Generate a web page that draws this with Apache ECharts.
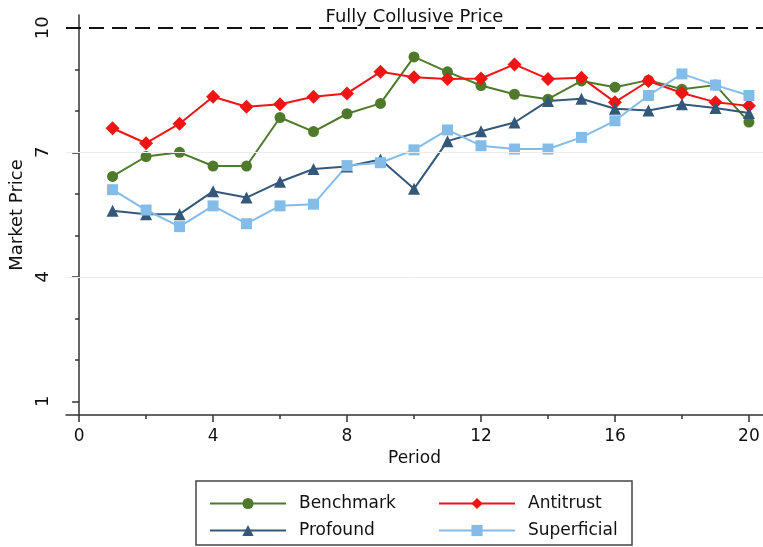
<!DOCTYPE html>
<html>
<head>
<meta charset="utf-8">
<script src="https://cdn.jsdelivr.net/npm/echarts@6/dist/echarts.min.js"></script>
<style>
  html, body { margin: 0; padding: 0; background: #fff; }
  #chart { width: 763px; height: 547px; }
</style>
</head>
<body>
<div id="chart"></div>
<script>
const periods = [1, 2, 3, 4, 5, 6, 7, 8, 9, 10, 11, 12, 13, 14, 15, 16, 17, 18, 19, 20]
const benchmark = [6.42, 6.90, 7.00, 6.67, 6.67, 7.84, 7.50, 7.93, 8.18, 9.30, 8.94, 8.61, 8.40, 8.28, 8.72, 8.57, 8.74, 8.52, 8.62, 7.73]
const antitrust = [7.58, 7.22, 7.69, 8.34, 8.10, 8.16, 8.34, 8.42, 8.94, 8.81, 8.77, 8.78, 9.12, 8.77, 8.80, 8.21, 8.72, 8.43, 8.21, 8.12]
const profound = [5.59, 5.51, 5.51, 6.06, 5.91, 6.29, 6.60, 6.66, 6.83, 6.12, 7.27, 7.51, 7.72, 8.24, 8.29, 8.05, 8.01, 8.16, 8.07, 7.95]
const superficial = [6.10, 5.61, 5.21, 5.71, 5.28, 5.71, 5.75, 6.68, 6.75, 7.06, 7.54, 7.16, 7.08, 7.08, 7.36, 7.76, 8.37, 8.89, 8.62, 8.37]

const yTicks = [1, 4, 7, 10]
const yMinorTicks = [2, 3, 5, 6, 8, 9]
const xTicks = [0, 4, 8, 12, 16, 20]
const xMinorTicks = [2, 6, 10, 14, 18]
const gridValues = [4, 7]
const collusivePrice = 10

const font = 'DejaVu Sans'
const ink = '#111'

function pairs(vals) {
  return periods.map((p, i) => [p, vals[i]])
}

function lineSeries(name, vals, color, symbol, size) {
  return {
    name,
    type: 'line',
    data: pairs(vals),
    symbol,
    symbolSize: size,
    z: 3,
    lineStyle: { color, width: 2 },
    itemStyle: { color, borderWidth: 0 },
    emphasis: { disabled: true }
  }
}

const chart = echarts.init(document.getElementById('chart'), null, { renderer: 'canvas' })

const legendCommon = {
  orient: 'vertical',
  itemWidth: 76,
  itemHeight: 14,
  itemGap: 10,
  selectedMode: false,
  textStyle: { fontFamily: font, fontSize: 17, color: ink, padding: [0, 0, 0, 8] }
}

chart.setOption({
  animation: false,
  textStyle: { fontFamily: font },
  grid: { left: 64, right: 0, top: 15, bottom: 132 },
  xAxis: [
    {
      type: 'value',
      min: -0.39,
      max: 20.42,
      position: 'bottom',
      name: 'Period',
      nameLocation: 'middle',
      nameGap: 33,
      nameTextStyle: { fontFamily: font, fontSize: 17, color: ink },
      axisLine: { show: true, lineStyle: { color: '#333', width: 1.5 } },
      axisTick: { show: true, length: 7, customValues: xTicks, lineStyle: { color: '#333', width: 1.5 } },
      axisLabel: { customValues: xTicks, margin: 13, fontFamily: font, fontSize: 17, color: ink },
      splitLine: { show: false }
    },
    {
      type: 'value',
      min: -0.39,
      max: 20.42,
      position: 'bottom',
      axisLine: { show: false },
      axisTick: { show: true, length: 4, customValues: xMinorTicks, lineStyle: { color: '#333', width: 1.5 } },
      axisLabel: { show: false },
      splitLine: { show: false }
    }
  ],
  yAxis: [
    {
      type: 'value',
      min: 0.67,
      max: 10.31,
      position: 'left',
      name: 'Market Price',
      nameLocation: 'middle',
      nameRotate: 90,
      nameGap: 40,
      nameTextStyle: { fontFamily: font, fontSize: 18, color: ink },
      axisLine: { show: true, lineStyle: { color: '#333', width: 1.5 } },
      axisTick: { show: true, length: 7, customValues: yTicks, lineStyle: { color: '#333', width: 1.5 } },
      axisLabel: { customValues: yTicks, rotate: 90, margin: 14, fontFamily: font, fontSize: 18, color: ink },
      splitLine: { show: false }
    },
    {
      type: 'value',
      min: 0.67,
      max: 10.31,
      position: 'left',
      axisLine: { show: false },
      axisTick: { show: true, length: 4, customValues: yMinorTicks, lineStyle: { color: '#333', width: 1.5 } },
      axisLabel: { show: false },
      splitLine: { show: false }
    }
  ],
  legend: [
    Object.assign({}, legendCommon, { left: 204, top: 490, data: ['Benchmark', 'Profound'] }),
    Object.assign({}, legendCommon, { left: 433, top: 490, data: ['Antitrust', 'Superficial'] })
  ],
  graphic: [
    {
      type: 'rect',
      shape: { x: 196, y: 481, width: 436, height: 64 },
      style: { fill: 'none', stroke: '#444', lineWidth: 1.5 },
      silent: true
    }
  ],
  series: [
    {
      name: 'grid',
      type: 'line',
      data: [],
      z: 1,
      silent: true,
      markLine: {
        silent: true,
        symbol: 'none',
        label: { show: false },
        lineStyle: { color: '#ececec', width: 1, type: 'solid' },
        data: gridValues.map((v) => ({ yAxis: v }))
      }
    },
    {
      name: 'collusive',
      type: 'line',
      data: [],
      z: 2,
      silent: true,
      markLine: {
        silent: true,
        symbol: 'none',
        lineStyle: { color: '#111', width: 2, type: [15, 8] },
        label: {
          show: true,
          position: 'middle',
          distance: 2,
          formatter: 'Fully Collusive Price',
          fontFamily: font,
          fontSize: 18,
          color: ink
        },
        data: [{ yAxis: collusivePrice }]
      }
    },
    lineSeries('Benchmark', benchmark, '#4f7a2b', 'circle', 11),
    lineSeries('Antitrust', antitrust, '#f01414', 'diamond', 14),
    lineSeries('Profound', profound, '#34587a', 'triangle', 12),
    lineSeries('Superficial', superficial, '#84bce8', 'rect', 11)
  ]
})
</script>
</body>
</html>
